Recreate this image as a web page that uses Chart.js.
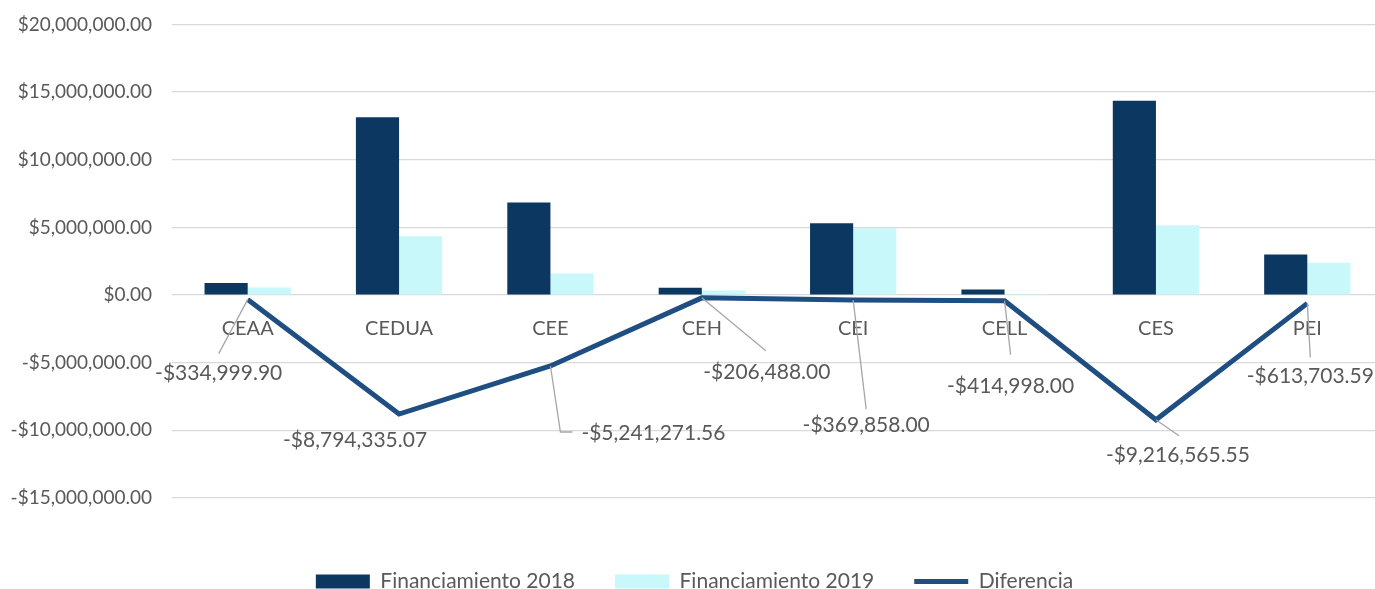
<!DOCTYPE html>
<html>
<head>
    <title>Financiamiento 2018 vs 2019</title>
    <style type="text/css">
        body {
            margin: 0;
            background: #ffffff;
            overflow: hidden;
        }

        #chart-container {
            width: 1375px;
            height: 589px;
            overflow: hidden;
        }
    </style>
    <script type="text/javascript" src="https://cdn.jsdelivr.net/npm/chart.js@4.4.1/dist/chart.umd.min.js"></script>
</head>
<body>

<div id="chart-container">
    <canvas id="graphCanvas" width="1383" height="589"></canvas>
</div>

<script>
    var categories = ['CEAA', 'CEDUA', 'CEE', 'CEH', 'CEI', 'CELL', 'CES', 'PEI'];
    var fin2018 = [900000, 13140000, 6840000, 550000, 5300000, 415000, 14370000, 3000000];
    var fin2019 = [565000, 4350000, 1600000, 343512, 4930142, 2, 5153434, 2386296];
    var diferencia = [-334999.90, -8794335.07, -5241271.56, -206488.00, -369858.00, -414998.00, -9216565.55, -613703.59];
    var yTicks = [-15000000, -10000000, -5000000, 0, 5000000, 10000000, 15000000, 20000000];

    // label placement (pixels from the point): text centre, leader path
    var labelSpots = [
        {text: [-29, 74], leader: [[-29, 54]]},
        {text: [-44, 26], leader: []},
        {text: [103, 67], leader: [[10, 66], [22, 66]]},
        {text: [65, 74], leader: [[64, 53]]},
        {text: [13, 125], leader: [[13, 109]]},
        {text: [6, 86], leader: [[6, 54]]},
        {text: [22, 35], leader: [[23, 16]]},
        {text: [3, 73], leader: [[3, 54]]}
    ];

    var FONT = 'Lato, "Open Sans", sans-serif';
    var GREY = '#595959';

    function money(v) {
        var s = '$' + Math.abs(v).toLocaleString('en-US', {minimumFractionDigits: 2, maximumFractionDigits: 2});
        return v < 0 ? '-' + s : s;
    }

    var lineLabels = {
        id: 'lineLabels',
        afterDatasetsDraw: function (chart) {
            var meta = chart.getDatasetMeta(2);
            var ctx = chart.ctx;
            ctx.save();
            meta.data.forEach(function (pt, i) {
                var spot = labelSpots[i];
                if (spot.leader.length) {
                    ctx.beginPath();
                    ctx.moveTo(pt.x, pt.y);
                    spot.leader.forEach(function (p) {
                        ctx.lineTo(pt.x + p[0], pt.y + p[1]);
                    });
                    ctx.strokeStyle = '#a6a6a6';
                    ctx.lineWidth = 1.3;
                    ctx.stroke();
                }
                ctx.font = '21px ' + FONT;
                ctx.fillStyle = GREY;
                ctx.textAlign = 'center';
                ctx.textBaseline = 'middle';
                ctx.fillText(money(diferencia[i]), pt.x + spot.text[0], pt.y + spot.text[1]);
            });
            ctx.restore();
        }
    };

    var graphTarget = document.getElementById('graphCanvas');

    var chart = new Chart(graphTarget, {
        type: 'bar',
        data: {
            labels: categories,
            datasets: [
                {
                    label: 'Financiamiento 2018',
                    data: fin2018,
                    backgroundColor: '#0b3761',
                    pointStyle: 'rect',
                    order: 1,
                    barPercentage: 1,
                    categoryPercentage: 0.57
                },
                {
                    label: 'Financiamiento 2019',
                    data: fin2019,
                    backgroundColor: '#c8f8fa',
                    pointStyle: 'rect',
                    order: 1,
                    barPercentage: 1,
                    categoryPercentage: 0.57
                },
                {
                    type: 'line',
                    label: 'Diferencia',
                    data: diferencia,
                    borderColor: '#1f4e82',
                    backgroundColor: '#1f4e82',
                    borderWidth: 5,
                    pointRadius: 0,
                    pointStyle: 'line',
                    tension: 0,
                    order: 0
                }
            ]
        },
        options: {
            responsive: false,
            animation: false,
            layout: {padding: {top: 24.5, right: 0, left: 6, bottom: -13}},
            plugins: {
                tooltip: {enabled: false},
                legend: {
                    position: 'bottom',
                    title: {display: true, text: ' ', font: {size: 10}, padding: {top: 0, bottom: 21}},
                    labels: {
                        usePointStyle: true,
                        pointStyleWidth: 54,
                        boxHeight: 14,
                        padding: 40,
                        color: GREY,
                        font: {family: FONT, size: 21},
                        sort: function (a, b) { return a.datasetIndex - b.datasetIndex; }
                    }
                }
            },
            scales: {
                x: {
                    position: {y: 0},
                    grid: {display: false},
                    border: {display: false},
                    ticks: {
                        color: GREY,
                        padding: 13,
                        font: {family: FONT, size: 20}
                    },
                    afterFit: function (scale) {
                        scale.paddingLeft = 0;
                        scale.paddingRight = 0;
                        scale.paddingTop = 0;
                        scale.paddingBottom = 0;
                    }
                },
                y: {
                    min: -15000000,
                    max: 20000000,
                    afterBuildTicks: function (scale) {
                        scale.ticks = yTicks.map(function (v) { return {value: v}; });
                    },
                    afterFit: function (scale) {
                        scale.width = 166;
                        scale.paddingTop = 0;
                        scale.paddingBottom = 0;
                    },
                    border: {display: false},
                    grid: {color: '#d9d9d9', lineWidth: 1.3, drawTicks: false},
                    ticks: {
                        color: GREY,
                        padding: 20,
                        font: {family: FONT, size: 19},
                        callback: function (v) { return money(v); }
                    }
                }
            }
        },
        plugins: [lineLabels]
    });
</script>

</body>
</html>
